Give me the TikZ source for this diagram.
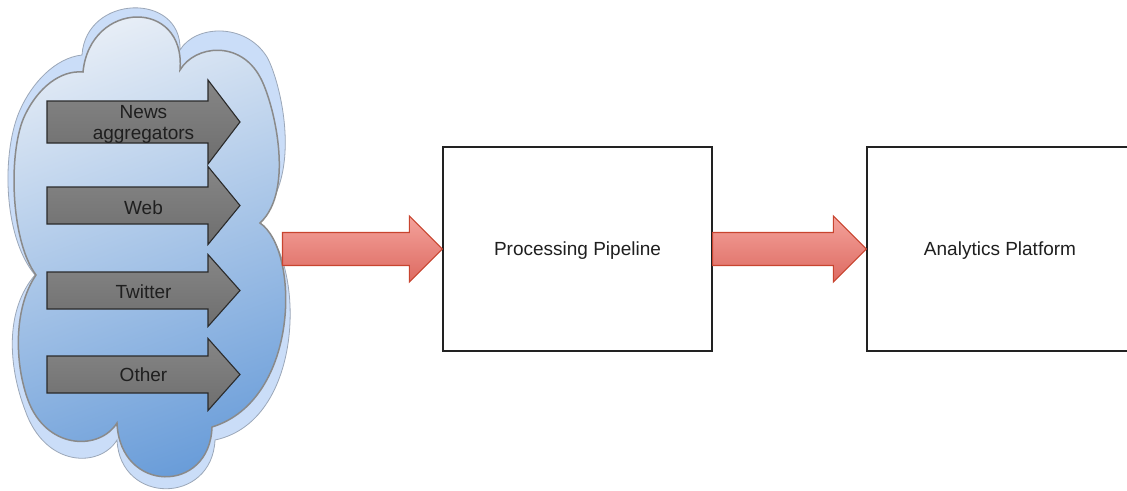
\documentclass[tikz,border=0pt]{standalone}
\usepackage{fontspec}
\setmainfont{Liberation Sans}
\usetikzlibrary{calc}

\definecolor{cloudhalo}{HTML}{CADDF8}
\definecolor{cloudhaloline}{HTML}{9BA7B8}
\definecolor{cloudtop}{HTML}{E6EDF6}
\definecolor{cloudbot}{HTML}{6A9DD9}
\definecolor{cloudline}{HTML}{8A8A8A}
\definecolor{srctop}{HTML}{868686}
\definecolor{srcbot}{HTML}{6E6E6E}
\definecolor{srcline}{HTML}{2A2A2A}
\definecolor{flowtop}{HTML}{F4A29B}
\definecolor{flowbot}{HTML}{DD6A61}
\definecolor{flowline}{HTML}{C8442F}
\definecolor{boxline}{HTML}{222222}

% a grey block arrow for one data source: centre y, shaft half height, head half height
\newcommand\srcblock[3]{%
  \shadedraw[srcshape] (47,#1-#2) -- (208,#1-#2) -- (208,#1-#3) -- (240,#1)
    -- (208,#1+#3) -- (208,#1+#2) -- (47,#1+#2) -- cycle;}

% a red block arrow running from one named point to another
\newcommand\flowblock[2]{%
  \shadedraw[flowshape] let \p1=(#1), \p2=(#2) in
    (\x1,\y1+16.5pt) -- (\x2-33pt,\y1+16.5pt) -- (\x2-33pt,\y1+33pt) -- (\x2,\y1)
    -- (\x2-33pt,\y1-33pt) -- (\x2-33pt,\y1-16.5pt) -- (\x1,\y1-16.5pt) -- cycle;}

\tikzset{
  txt/.style={font=\fontsize{19}{21}\selectfont, text=black!88, align=center, inner sep=0pt,
    text height=13.5pt, text depth=0pt},
  srcshape/.style={draw=srcline, line width=1.1pt, top color=srctop, bottom color=srcbot, line join=miter},
  flowshape/.style={draw=flowline, line width=1.1pt, top color=flowtop, bottom color=flowbot, line join=miter},
  stagebox/.style={draw=boxline, line width=1.2pt, fill=white, minimum height=204pt,
    font=\fontsize{19}{21}\selectfont, text=black!88, inner sep=0pt,
    text height=13.5pt, text depth=0pt},
}

\begin{document}
\begin{tikzpicture}[x=1pt, y=-1pt]
\clip (0,0) rectangle (1127,490);
\fill[white] (0,0) rectangle (1127,490);

% outer halo of the cloud
\filldraw[fill=cloudhalo, draw=cloudhaloline, line width=0.8pt]
  (82,55) .. controls (86,-6) and (182,-8) .. (180,50)
  .. controls (195,25) and (245,22) .. (267,57)
  .. controls (280,80) and (306,180) .. (255,222)
  .. controls (305,245) and (310,420) .. (215,440)
  .. controls (212,505) and (120,505) .. (117,440)
  .. controls (100,468) and (45,468) .. (25,410)
  .. controls (8,365) and (5,310) .. (35,275)
  .. controls (2,235) and (2,150) .. (20,110)
  .. controls (32,83) and (55,58) .. (82,55)
  -- cycle;

% the cloud of data sources
\shadedraw[draw=cloudline, line width=1.5pt, top color=cloudtop, bottom color=cloudbot, shading angle=20]
  (83,72) .. controls (90,0) and (186,-2) .. (180,70)
  .. controls (195,45) and (240,40) .. (260,77)
  .. controls (273,100) and (296,190) .. (260,223)
  .. controls (300,250) and (300,400) .. (212,427)
  .. controls (210,494) and (120,494) .. (117,423)
  .. controls (100,450) and (50,450) .. (30,405)
  .. controls (15,370) and (12,310) .. (36,275)
  .. controls (10,240) and (8,150) .. (25,115)
  .. controls (38,88) and (60,70) .. (83,72)
  -- cycle;

% data sources
\srcblock{122}{21}{42}
\srcblock{205.5}{18.5}{39}
\srcblock{290.5}{18.5}{36}
\srcblock{374.5}{18.5}{36}
\node[txt] (news)    at (143.5,132.8) {News\\aggregators};
\node[txt] (web)     at (143.5,207.3) {Web};
\node[txt] (twitter) at (143.5,291.3) {Twitter};
\node[txt] (other)   at (143.5,374.3) {Other};

% processing stages
\node[stagebox, minimum width=269pt] (pipeline)  at (577.5,249) {Processing Pipeline};
\node[stagebox, minimum width=266pt] (analytics) at (1000,249)  {Analytics Platform};

% data flow
\coordinate (cloudout) at (282.5,249);
\flowblock{cloudout}{pipeline.west}
\flowblock{pipeline.east}{analytics.west}
\end{tikzpicture}
\end{document}
